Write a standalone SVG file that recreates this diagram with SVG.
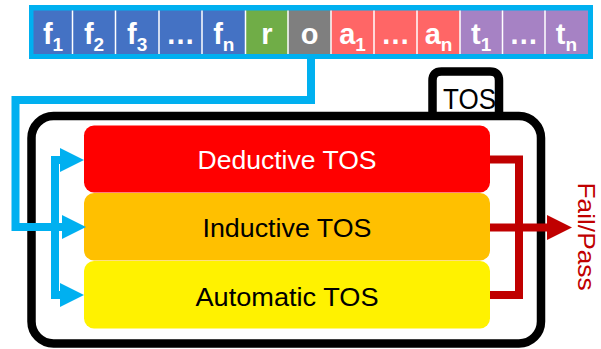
<svg xmlns="http://www.w3.org/2000/svg" width="601" height="349" viewBox="0 0 601 349">
  <style>
    .cell-text { font-family: "Liberation Sans", Arial, sans-serif; font-weight: bold; font-size: 29px; fill: #fff; text-anchor: middle; }
    .sub { font-size: 19px; }
    .sep { stroke: #fff; stroke-width: 1.5; }
    .stage { stroke: none; }
    .stage-text { font-family: "Liberation Sans", Arial, sans-serif; font-size: 26px; text-anchor: middle; }
    .tab-text { font-family: "Liberation Sans", Arial, sans-serif; font-size: 30px; text-anchor: middle; fill: #000; }
    .verdict-text { font-family: "Liberation Sans", Arial, sans-serif; font-size: 24px; text-anchor: middle; fill: #C00000; }
    .frame { fill: none; stroke: #000; stroke-width: 8.5; }
    .feed { fill: none; stroke: #00B0F0; stroke-width: 8; stroke-linejoin: miter; }
    .out { fill: none; stroke: #C00000; stroke-width: 8; stroke-linejoin: miter; }
    .blue { fill: #4472C4; }
    .green { fill: #70AD47; }
    .gray { fill: #7F7F7F; }
    .salmon { fill: #FF6666; }
    .purple { fill: #A682C4; }
  </style>
  <defs>
    <marker id="arrow-blue" markerUnits="userSpaceOnUse" viewBox="0 -12 24 24" refX="0" refY="0" markerWidth="24" markerHeight="24" orient="auto">
      <path d="M0,-12 L24,0 L0,12 Z" fill="#00B0F0"/>
    </marker>
    <marker id="arrow-red" markerUnits="userSpaceOnUse" viewBox="0 -12.5 25 25" refX="0" refY="0" markerWidth="25" markerHeight="25" orient="auto">
      <path d="M0,-12.5 L25,0 L0,12.5 Z" fill="#C00000"/>
    </marker>
  </defs>

  <!-- input vector: features, rule, operator, arguments, thresholds -->
  <g id="input-vector">
    <rect x="29" y="5" width="564" height="54" fill="#00B0F0"/>
    <rect class="blue" x="33.5" y="10.5" width="212" height="43.5"/>
    <rect class="green" x="245.5" y="10.5" width="42.5" height="43.5"/>
    <rect class="gray" x="288" y="10.5" width="43" height="43.5"/>
    <rect class="salmon" x="331" y="10.5" width="129" height="43.5"/>
    <rect class="purple" x="460" y="10.5" width="128" height="43.5"/>
    <g class="sep">
      <line x1="72.5" y1="10.5" x2="72.5" y2="54"/>
      <line x1="115.5" y1="10.5" x2="115.5" y2="54"/>
      <line x1="159" y1="10.5" x2="159" y2="54"/>
      <line x1="202" y1="10.5" x2="202" y2="54"/>
      <line x1="245.5" y1="10.5" x2="245.5" y2="54"/>
      <line x1="288" y1="10.5" x2="288" y2="54"/>
      <line x1="331" y1="10.5" x2="331" y2="54"/>
      <line x1="374" y1="10.5" x2="374" y2="54"/>
      <line x1="417" y1="10.5" x2="417" y2="54"/>
      <line x1="460" y1="10.5" x2="460" y2="54"/>
      <line x1="502.5" y1="10.5" x2="502.5" y2="54"/>
      <line x1="545" y1="10.5" x2="545" y2="54"/>
    </g>
    <text class="cell-text" x="53" y="44">f<tspan class="sub" dy="6.5">1</tspan></text>
    <text class="cell-text" x="94" y="44">f<tspan class="sub" dy="6.5">2</tspan></text>
    <text class="cell-text" x="137.2" y="44">f<tspan class="sub" dy="6.5">3</tspan></text>
    <text class="cell-text" x="180.5" y="44">…</text>
    <text class="cell-text" x="223.8" y="44">f<tspan class="sub" dy="6.5">n</tspan></text>
    <text class="cell-text" x="266.8" y="44">r</text>
    <text class="cell-text" x="309.5" y="44">o</text>
    <text class="cell-text" x="352.5" y="44">a<tspan class="sub" dy="6.5">1</tspan></text>
    <text class="cell-text" x="395.5" y="44">…</text>
    <text class="cell-text" x="438.5" y="44">a<tspan class="sub" dy="6.5">n</tspan></text>
    <text class="cell-text" x="481.2" y="44">t<tspan class="sub" dy="6.5">1</tspan></text>
    <text class="cell-text" x="523.8" y="44">…</text>
    <text class="cell-text" x="566.5" y="44">t<tspan class="sub" dy="6.5">n</tspan></text>
  </g>

  <!-- TOS container with its tab -->
  <g id="tos">
    <path class="frame" fill="#fff" d="M432.5 116 V80.5 Q432.5 71.5 441.5 71.5 H490 Q499 71.5 499 80.5 V116"/>
    <rect class="frame" x="31.5" y="116" width="509.5" height="227.5" rx="22"/>
    <text class="tab-text" x="469.5" y="108.5" textLength="53" lengthAdjust="spacingAndGlyphs">TOS</text>
  </g>

  <g id="deductive-tos">
    <rect class="stage" x="84" y="125.5" width="406" height="67" rx="10" fill="#FF0000"/>
    <text class="stage-text" x="287" y="168.5" fill="#fff" textLength="179" lengthAdjust="spacingAndGlyphs">Deductive TOS</text>
  </g>
  <g id="inductive-tos">
    <rect class="stage" x="84" y="193" width="406" height="67.5" rx="10" fill="#FFC000"/>
    <text class="stage-text" x="287" y="237" fill="#000" textLength="169" lengthAdjust="spacingAndGlyphs">Inductive TOS</text>
  </g>
  <g id="automatic-tos">
    <rect class="stage" x="84" y="261" width="406" height="67.5" rx="10" fill="#FFF200"/>
    <text class="stage-text" x="287" y="306" fill="#000" textLength="183" lengthAdjust="spacingAndGlyphs">Automatic TOS</text>
  </g>

  <g id="verdict">
    <text class="verdict-text" transform="translate(578,236.5) rotate(90)" x="0" y="0" textLength="108" lengthAdjust="spacingAndGlyphs">Fail/Pass</text>
  </g>

  <!-- connectors -->
  <g id="connectors">
    <path class="feed" d="M311 59 V100 H15.5 V227 H62" marker-end="url(#arrow-blue)"/>
    <path class="feed" d="M62 160 H55 V295 H60" marker-end="url(#arrow-blue)"/>
    <path class="feed" d="M55 160 H60" marker-end="url(#arrow-blue)"/>
    <path class="out" d="M490 159.5 H519 V295 H490"/>
    <path class="out" d="M490 227.5 H547" marker-end="url(#arrow-red)"/>
  </g>
</svg>
